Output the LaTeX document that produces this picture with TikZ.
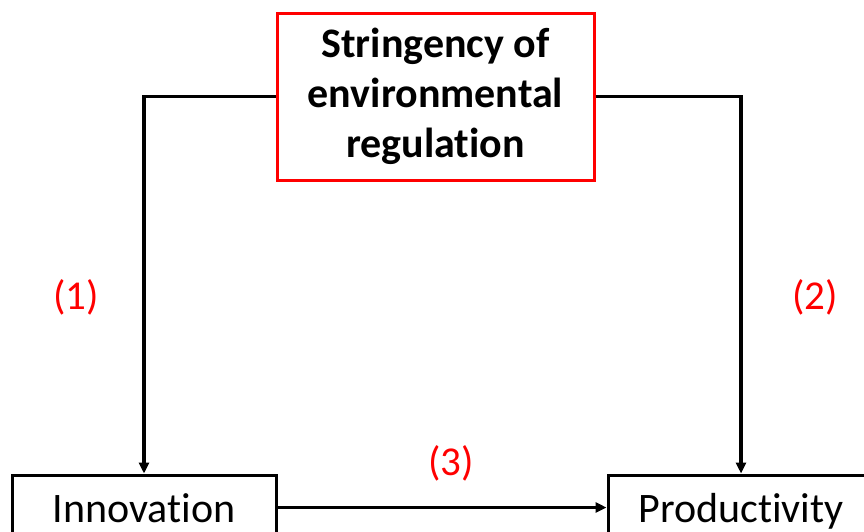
\documentclass[tikz,border=0pt]{standalone}
\usepackage{fontspec}
\setmainfont{Carlito}[RawFeature={-liga}]
\usetikzlibrary{arrows.meta}
\begin{document}
\begin{tikzpicture}[x=1pt,y=-1pt,
  box/.style={draw, line width=3pt, inner sep=0pt, font=\fontsize{42}{50}\selectfont},
  lbl/.style={text=red, font=\fontsize{41}{48}\selectfont, inner sep=0pt},
  conn/.style={line width=3.2pt, -{Triangle[length=11pt,width=10pt]}}]
\useasboundingbox (0,0) rectangle (864,531);
\clip (0,0) rectangle (864,531);
\node[box, draw=red, minimum width=317pt, minimum height=167pt, align=center,
  font=\fontsize{42}{50}\selectfont\bfseries] (reg) at (435.5,96.5)
  {Stringency of\\environmental\\regulation};
\node[box, minimum width=264pt, minimum height=65pt, text height=29pt, text depth=0pt] (inn) at (144,507.5) {Innovation};
\node[box, minimum width=266pt, minimum height=65pt, text height=29pt, text depth=0pt] (prod) at (741,507.5) {Productivity};
\draw[conn] (reg.west) -| (inn.north);
\draw[conn] (reg.east) -| (prod.north);
\draw[conn] (inn.east) -- (prod.west);
\node[lbl] (l1) at (76,297) {(1)};
\node[lbl] (l2) at (815,297) {(2)};
\node[lbl] (l3) at (451,463) {(3)};
\end{tikzpicture}
\end{document}
